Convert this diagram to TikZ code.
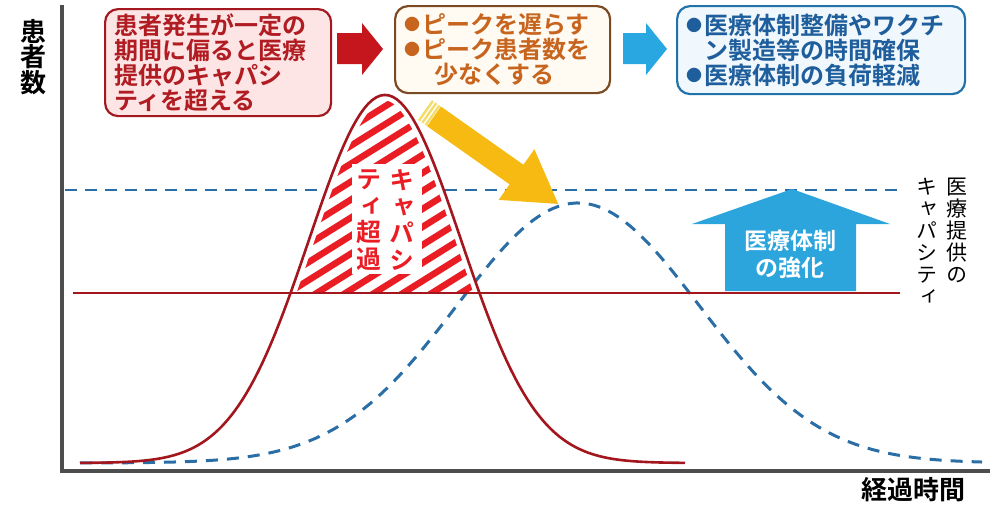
\documentclass[tikz,border=0pt]{standalone}
\usepackage{fontspec}
\usepackage{tikz}
\usetikzlibrary{positioning}

\newfontfamily\jp{Noto Sans CJK JP}[BoldFont={Noto Sans CJK JP Bold}]
\newfontfamily\jpv{Noto Sans CJK JP}[BoldFont={Noto Sans CJK JP Bold}, RawFeature=+vert]

\definecolor{axisgray}{HTML}{4D4D4D}
\definecolor{causered}{HTML}{A3191F}
\definecolor{causefill}{HTML}{FDE5E5}
\definecolor{causetext}{HTML}{B01C22}
\definecolor{steparrowred}{HTML}{C4161C}
\definecolor{aimbrown}{HTML}{7B4A23}
\definecolor{aimfill}{HTML}{FFFBF2}
\definecolor{aimtext}{HTML}{C7641E}
\definecolor{stepblue}{HTML}{28A7E1}
\definecolor{goalblue}{HTML}{2272AA}
\definecolor{goalfill}{HTML}{F0F8FD}
\definecolor{goaltext}{HTML}{1F5E9C}
\definecolor{peakred}{HTML}{A3161E}
\definecolor{hatchred}{HTML}{EA1C24}
\definecolor{flatblue}{HTML}{2B6EA6}
\definecolor{shiftgold}{HTML}{F6BA12}
\definecolor{goldpale}{HTML}{F4DC6A}
\definecolor{upblue}{HTML}{2CA5DD}

% the two waves, y measured downwards in pixels
\newcommand\peakwave{463-368*exp(-0.5*((\x-385)/76)^2)}
\newcommand\flatwave{463-260*exp(-0.5*((\x-578)/121)^2)}
\newcommand\dotmark{\makebox[18pt][l]{\raisebox{2.5pt}{\fontsize{16}{16}\selectfont ●}}}

\begin{document}
\begin{tikzpicture}[x=1pt, y=-1pt,
        every node/.style={inner sep=0pt},
        infobox/.style={draw, line width=2.2pt, rounded corners=13pt,
                anchor=north west, align=left, inner xsep=9pt,
                font=\jp\bfseries\fontsize{24}{25}\selectfont},
        hatchbar/.style={hatchred, line width=6.5pt},
        overtext/.style={align=center, text=hatchred,
                font=\jpv\bfseries\fontsize{25}{26.5}\selectfont},
        caplabel/.style={align=center, anchor=north,
                font=\jpv\fontsize{21}{22}\selectfont},
        axislabel/.style={font=\jp\bfseries\fontsize{26}{24}\selectfont, align=center}]
    \useasboundingbox (0,0) rectangle (994,506);

    % axes
    \draw[axisgray, line width=4pt] (62,5) -- (62,471) -- (990,471);
    \node[axislabel] (ylab) at (33,57) {患\\者\\数};
    \node[axislabel] (xlab) at (913,490) {経過時間};

    % capacity lines
    \draw[flatblue, line width=2.2pt, dash pattern=on 12pt off 8pt] (65,190) -- (902,190);
    \draw[flatblue, line width=3pt, dash pattern=on 12pt off 9pt]
        plot[domain=80:982, samples=150] (\x,{\flatwave});

    % part over capacity
    \begin{scope}
        \clip plot[domain=290.6:479.4, samples=60] (\x,{\peakwave}) -- cycle;
        \fill[white] (280,90) rectangle (490,295);
        \foreach \c in {100,118,...,424}
            \draw[hatchbar] (280,\c) -- (500,\c-137.5);
        \draw[white, line width=11pt] plot[domain=285:485, samples=60] (\x,{\peakwave});
    \end{scope}
    \fill[white] (352,164) rectangle (422,274);
    \node[overtext] (over1) at (402,220) {キ\\ャ\\パ\\シ};
    \node[overtext, left=8pt of over1] (over2) {テ\\ィ\\超\\過};

    \draw[peakred, line width=1.8pt] (73,293) -- (900,293);
    \draw[peakred, line width=2.6pt]
        plot[domain=80:685, samples=150] (\x,{\peakwave});

    % peak moves later
    \begin{scope}[shift={(425,110)}, rotate=-35.2]
        \fill[shiftgold] (11,-12) -- (112,-12) -- (112,-31) -- (163,0)
            -- (112,31) -- (112,12) -- (11,12) -- cycle;
        \foreach \s in {0,4,8}
            \fill[goldpale] (\s,-12) rectangle ++(2.4,24);
    \end{scope}

    % stronger medical system
    \fill[upblue] (792,189) -- (890,224) -- (856,224) -- (856,291)
        -- (725,291) -- (725,224) -- (692,224) -- cycle;
    \node[align=center, text=white, font=\jp\bfseries\fontsize{23}{27}\selectfont]
        (strength) at (790,254) {医療体制\\の強化};

    \node[caplabel] (cap1) at (957,178) {医\\療\\提\\供\\の};
    \node[caplabel] (cap2) at (927,178) {キ\\ャ\\パ\\シ\\テ\\ィ};

    % boxes on top
    \node[infobox, draw=causered, fill=causefill, text=causetext,
        text width=208pt, minimum height=107pt] (cause) at (104,8)
        {患者発生が一定の\\期間に偏ると医療\\提供のキャパシ\\ティを超える};
    \node[infobox, draw=aimbrown, fill=aimfill, text=aimtext,
        text width=197pt, minimum height=87pt] (aim) at (394,5)
        {\dotmark ピークを遅らす\\\dotmark ピーク患者数を\\\hspace*{30pt}少なくする};
    \node[infobox, draw=goalblue, fill=goalfill, text=goaltext,
        text width=270pt, minimum height=88pt] (goal) at (676,5)
        {\dotmark 医療体制整備やワクチ\\\phantom{\dotmark}ン製造等の時間確保\\\dotmark 医療体制の負荷軽減};

    \fill[steparrowred] (337,33) -- (362,33) -- (362,23) -- (383,49)
        -- (362,75) -- (362,64) -- (337,64) -- cycle;
    \fill[stepblue] (623,33) -- (646,33) -- (646,23) -- (667,49)
        -- (646,75) -- (646,64) -- (623,64) -- cycle;
\end{tikzpicture}
\end{document}
